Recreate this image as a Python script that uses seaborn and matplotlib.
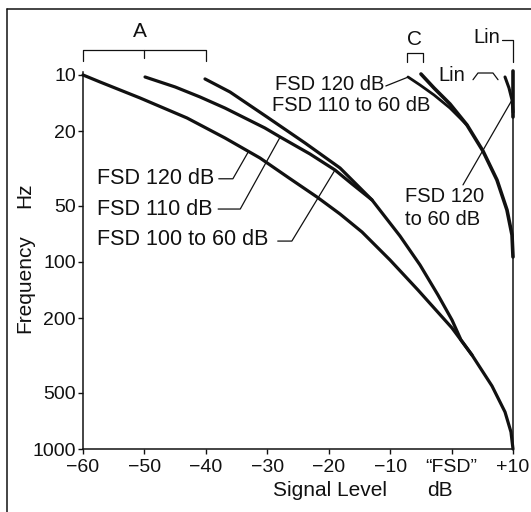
import matplotlib
matplotlib.use("Agg")
import matplotlib.pyplot as plt
from matplotlib.lines import Line2D
from matplotlib.ticker import NullLocator
import seaborn as sns

# ---------------- data (signal level dB, frequency Hz) ----------------
a1_db = [-60, -57.23, -50.72, -43.07, -36.88, -31.19, -26.47, -21.91, -18.16,
         -14.58, -10.02, -5.47, 0.07, 3.32, 6.58, 8.70, 9.67, 10]
a1_hz = [10, 10.9, 13.27, 16.98, 21.73, 27.79, 35.54, 44.93, 55.38,
         69.12, 97.57, 141.2, 225.4, 314.3, 460.3, 634.1, 811.3, 1000]

a2_db = [-49.9, -45.0, -40.95, -36.9, -30.4, -27.9, -23.05, -18.98, -16.2, -12.95]
a2_hz = [10.25, 11.59, 13.11, 15.02, 19.2, 21.46, 26.45, 32.22, 38.28, 46.6]

a3_db = [-40.14, -36.07, -30.05, -23.86, -18.16, -12.95, -8.40, -5.14,
         -2.21, 0.07, 1.53, 3.32]
a3_hz = [10.5, 12.33, 16.77, 23.1, 31.43, 46.6, 72.6, 103.7,
         150.2, 204.3, 261, 314.3]

c120_db = [-7.09, -5.14, -2.86, -0.26, 2.51]
c120_hz = [10.25, 11.31, 12.79, 15.02, 18.51]

c110_db = [-4.98, -2.86, -0.26, 2.51, 5.11, 7.39, 9.02, 9.84, 10]
c110_hz = [9.88, 11.74, 14.29, 18.51, 25.5, 36.43, 52.72, 71.71, 94.0]

lin_flat_db = [10, 10]
lin_flat_hz = [10, 1000]
lin_top_db = [10, 10]
lin_top_hz = [9.5, 16.8]
lin_curve_db = [8.70, 9.35, 9.84, 10]
lin_curve_hz = [10.25, 11.74, 13.6, 15.8]

x_ticks = [-60, -50, -40, -30, -20, -10, 0, 10]
x_labels = ["\u221260", "\u221250", "\u221240", "\u221230", "\u221220",
            "\u221210", "\u201cFSD\u201d", "+10"]
y_ticks = [10, 20, 50, 100, 200, 500, 1000]
y_labels = ["10", "20", "50", "100", "200", "500", "1000"]

# ---------------- style ----------------
sns.set_theme(style="ticks")
plt.rcParams['font.family'] = ['Liberation Sans', 'DejaVu Sans']
plt.rcParams['axes.linewidth'] = 1.1
plt.rcParams['text.color'] = 'black'

W, H = 531, 512
fig = plt.figure(figsize=(W / 100, H / 100), dpi=100)
fig.patch.set_facecolor('white')
ax = fig.add_axes([83 / W, 63 / H, 430 / W, 377 / H])
ax.set_facecolor('white')
ax.set_yscale('log')

ink = '#111111'
curves = [
    (a1_db, a1_hz, 2.3),
    (a2_db, a2_hz, 2.3),
    (a3_db, a3_hz, 2.3),
    (c120_db, c120_hz, 2.0),
    (c110_db, c110_hz, 2.6),
    (lin_flat_db, lin_flat_hz, 1.1),
    (lin_top_db, lin_top_hz, 2.6),
    (lin_curve_db, lin_curve_hz, 2.2),
]
for xs, ys, lw in curves:
    sns.lineplot(x=xs, y=ys, ax=ax, sort=False, estimator=None,
                 color=ink, linewidth=lw)

ax.set_xlim(-60, 10)
ax.set_ylim(1000, 9.64)
ax.set_xticks(x_ticks)
ax.set_xticklabels(x_labels)
ax.set_yticks(y_ticks)
ax.set_yticklabels(y_labels)
ax.yaxis.set_minor_locator(NullLocator())
ax.tick_params(axis='both', direction='out', length=3.5, width=1.0,
               labelsize=14, colors=ink)
ax.tick_params(axis='y', pad=1.5)
ax.tick_params(axis='x', pad=4)
sns.despine(ax=ax)
ax.spines['left'].set_color(ink)
ax.spines['bottom'].set_color(ink)

# ---------------- annotations ----------------
thin = dict(color=ink, lw=0.9, clip_on=False)
# leaders
ax.plot([-37.9, -35.6, -33.1], [35.9, 35.9, 25.8], **thin)
ax.plot([-38.0, -34.4, -27.9], [52.1, 52.1, 21.46], **thin)
ax.plot([-28.3, -26.0, -18.98], [77.3, 77.3, 32.22], **thin)
ax.plot([-10.7, -7.2], [11.45, 10.3], **thin)
ax.plot([1.86, 9.84], [38.7, 13.6], **thin)
# brackets
ax.plot([-60, -60, -40, -40], [8.41, 7.35, 7.35, 8.41], **thin)
ax.plot([-50, -50], [7.35, 8.11], **thin)
ax.plot([-7.26, -7.26, -4.65, -4.65], [8.52, 7.63, 7.63, 8.52], **thin)
ax.plot([8.2, 10, 10], [6.5, 6.5, 8.52], **thin)
ax.plot([3.49, 4.30, 6.74, 7.56], [10.6, 9.76, 9.76, 10.6], **thin)

for line in ax.lines:
    line.set_clip_on(False)
    line.set_solid_capstyle('round')
    line.set_solid_joinstyle('round')

ax.text(-50.7, 5.89, "A", ha='center', va='center', fontsize=15, color=ink)
ax.text(-6.1, 6.5, "C", ha='center', va='center', fontsize=15, color=ink)
ax.text(7.9, 6.34, "Lin", ha='right', va='center', fontsize=14.5, color=ink)
ax.text(0.1, 10.1, "Lin", ha='center', va='center', fontsize=14.5, color=ink)

ax.text(-11.0, 11.2, "FSD 120 dB", ha='right', va='center', fontsize=14.5, color=ink)
ax.text(-29.2, 14.5, "FSD 110 to 60 dB", ha='left', va='center', fontsize=14.5, color=ink)
ax.text(-7.6, 44.4, "FSD 120", ha='left', va='center', fontsize=14.5, color=ink)
ax.text(-7.6, 59.6, "to 60 dB", ha='left', va='center', fontsize=14.5, color=ink)

ax.text(-57.7, 35.9, "FSD 120 dB", ha='left', va='center', fontsize=15.5, color=ink)
ax.text(-57.7, 52.7, "FSD 110 dB", ha='left', va='center', fontsize=15.5, color=ink)
ax.text(-57.7, 76.2, "FSD 100 to 60 dB", ha='left', va='center', fontsize=15.5, color=ink)

# axis titles
fig.text(330 / W, 1 - 490 / H, "Signal Level", ha='center', va='center', fontsize=15, color=ink)
fig.text(440 / W, 1 - 490 / H, "dB", ha='center', va='center', fontsize=15, color=ink)
fig.text(25 / W, 1 - 284 / H, "Frequency", ha='center', va='center', rotation=90, fontsize=15, color=ink)
fig.text(25 / W, 1 - 195 / H, "Hz", ha='center', va='center', rotation=90, fontsize=15, color=ink)

# outer frame (top and left edges of the scanned figure box)
fig.add_artist(Line2D([7 / W, 1], [1 - 9 / H, 1 - 9 / H], color=ink, lw=1.1,
                      transform=fig.transFigure))
fig.add_artist(Line2D([7 / W, 7 / W], [1 - 9 / H, 0], color=ink, lw=1.1,
                      transform=fig.transFigure))

fig.savefig("out.png", dpi=100, facecolor='white')
